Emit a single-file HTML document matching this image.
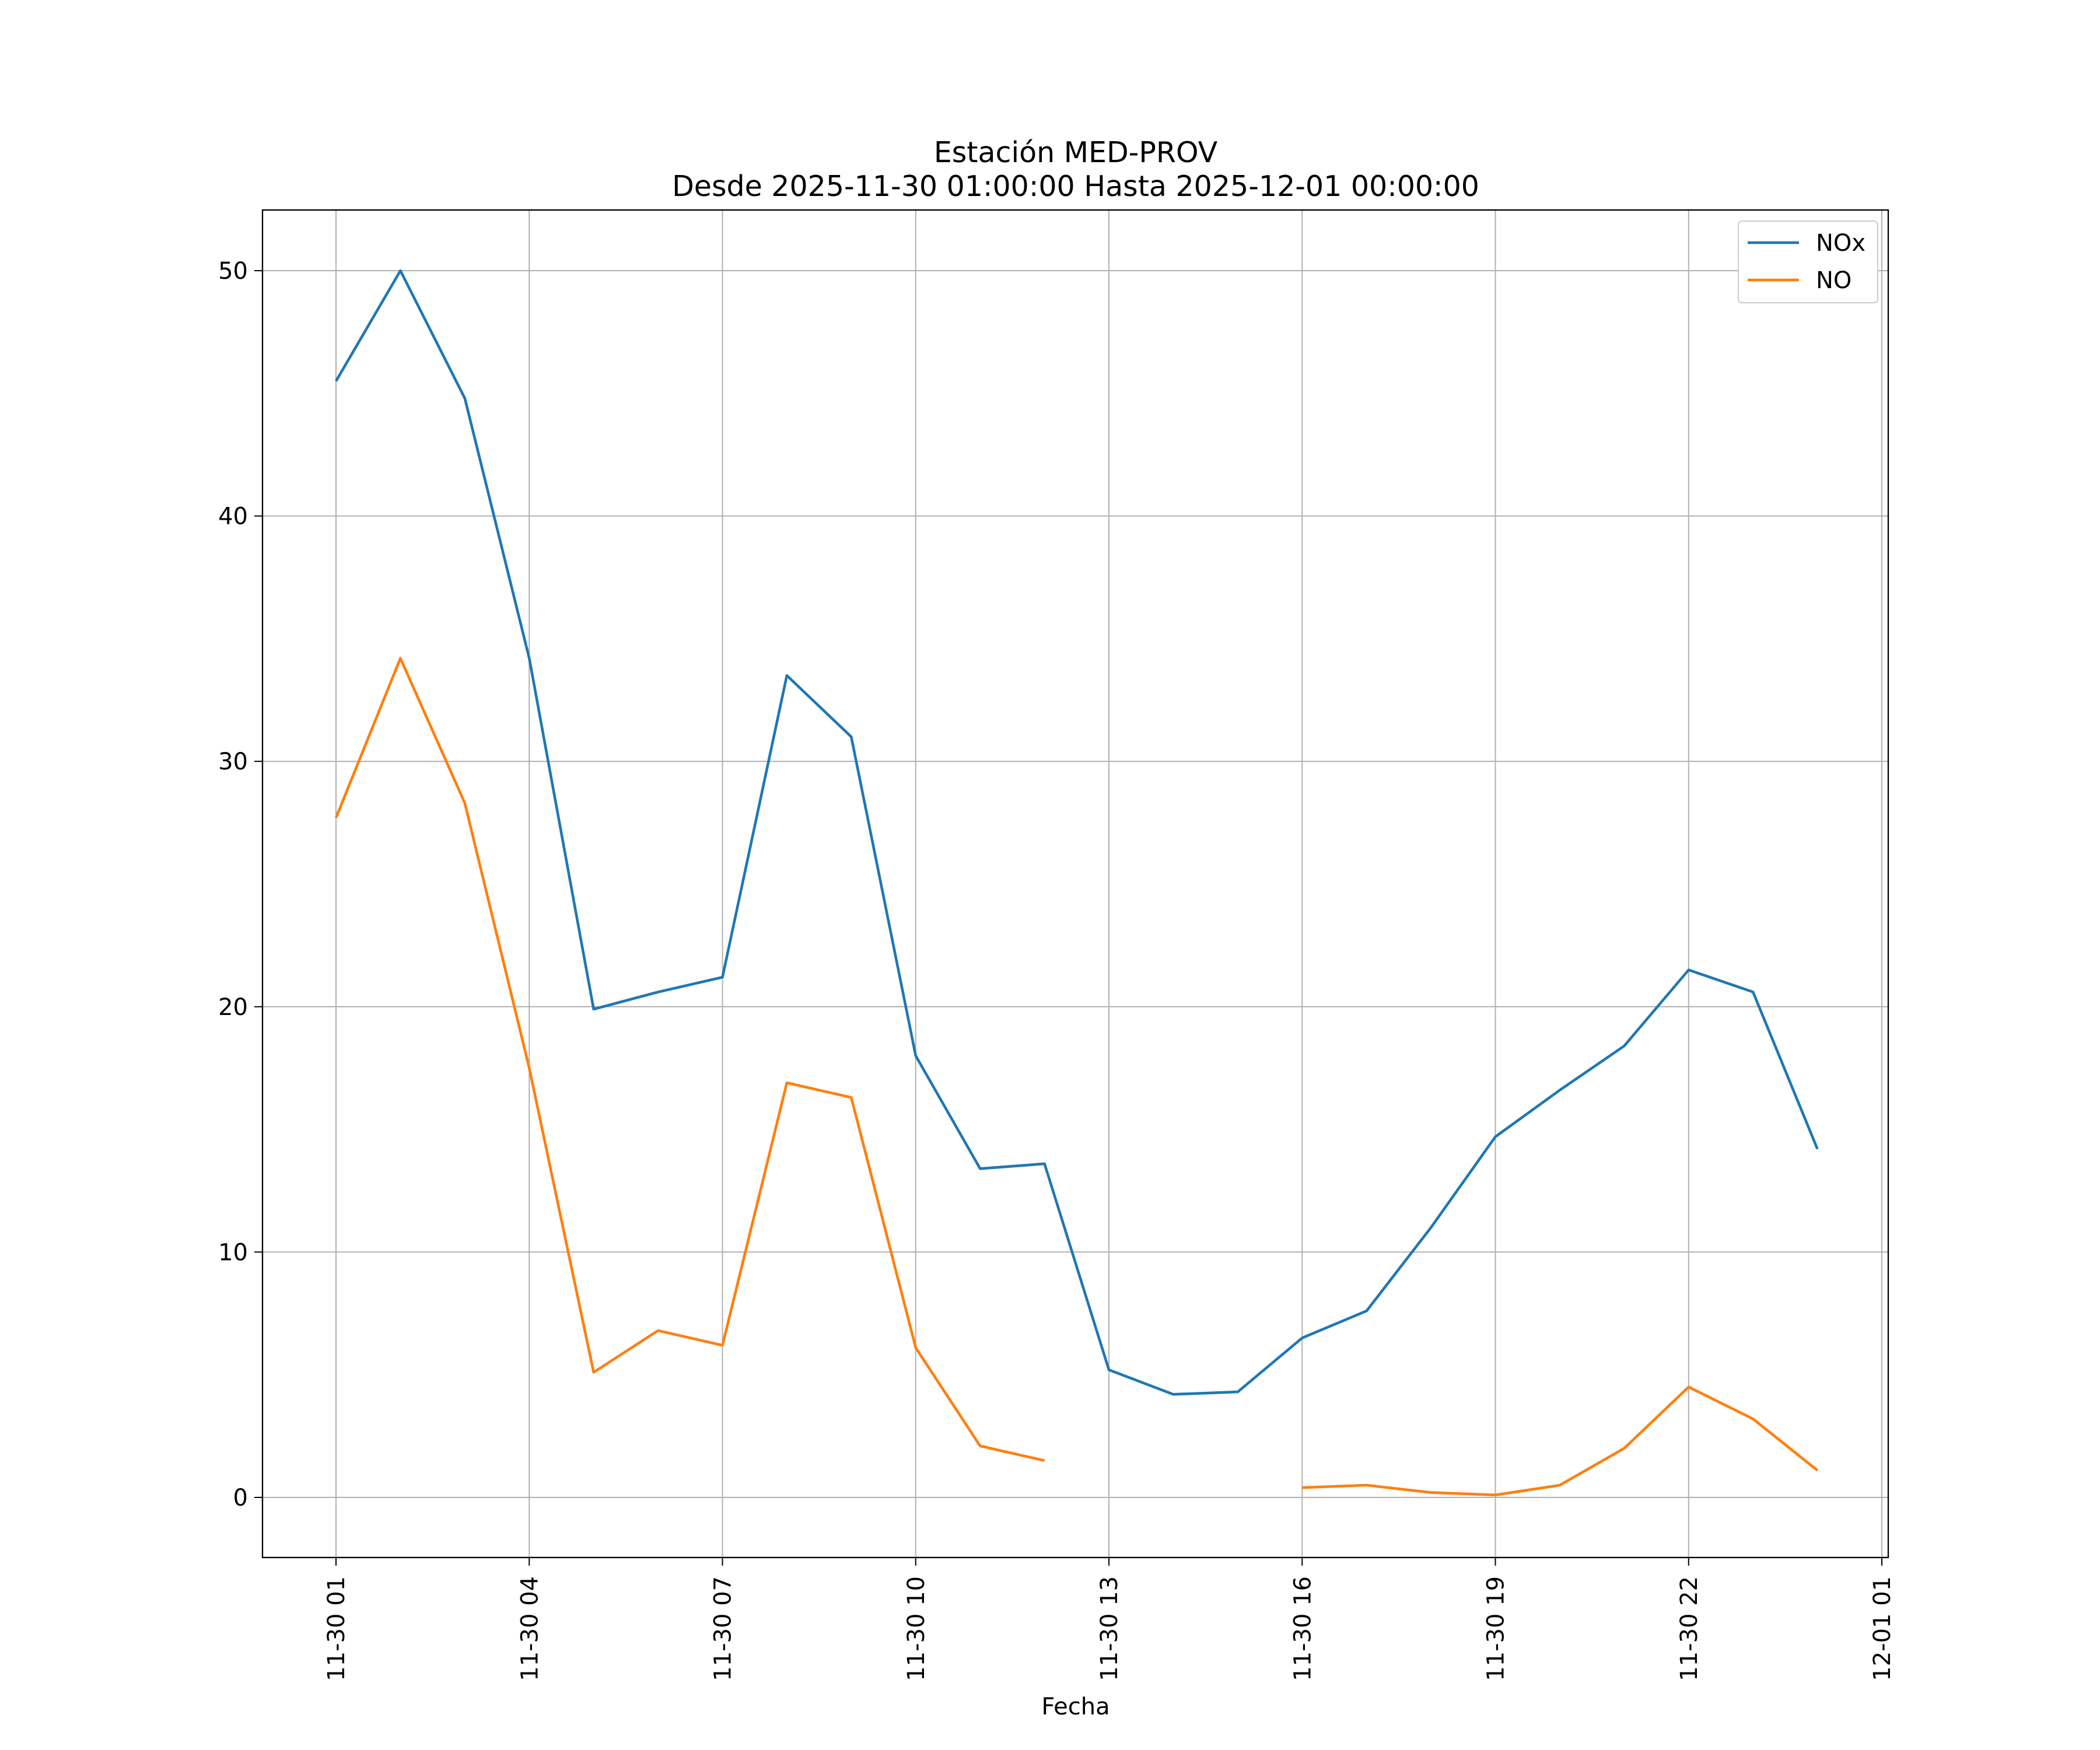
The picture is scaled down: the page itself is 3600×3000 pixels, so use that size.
<!DOCTYPE html>
<html><head><meta charset="utf-8"><style>html,body{margin:0;padding:0;background:#fff}svg{display:block}text{font-family:"DejaVu Sans","Liberation Sans",sans-serif;fill:#000}</style></head>
<body>
<svg id="chart" width="3600" height="3000" xmlns="http://www.w3.org/2000/svg">
<rect width="3600" height="3000" fill="#fff"/>
<g id="grid"></g><g id="series"></g><g id="axes"></g>
<text x="1844" y="278" font-size="49" text-anchor="middle">Estación MED-PROV</text>
<text x="1844" y="336" font-size="49" text-anchor="middle">Desde 2025-11-30 01:00:00 Hasta 2025-12-01 00:00:00</text>
<text x="1844" y="2939" font-size="40" text-anchor="middle">Fecha</text>
<g>
<rect x="2980" y="379" width="239" height="140" rx="6" fill="#fff" stroke="#ccc" stroke-width="2"/>
<line x1="2996" y1="416" x2="3084" y2="416" stroke="#1f77b4" stroke-width="4.6"/>
<text x="3113" y="430" font-size="40">NOx</text>
<line x1="2996" y1="480" x2="3084" y2="480" stroke="#ff7f0e" stroke-width="4.6"/>
<text x="3113" y="494" font-size="40">NO</text>
</g>
</svg>
<script>
const hours=[1,2,3,4,5,6,7,8,9,10,11,12,13,14,15,16,17,18,19,20,21,22,23,24];
const noxValues=[45.5,50,44.8,34.2,19.9,20.6,21.2,33.5,31,18,13.4,13.6,5.2,4.2,4.3,6.5,7.6,11,14.7,16.6,18.4,21.5,20.6,14.2];
const noValues=[27.7,34.2,28.3,17.5,5.1,6.8,6.2,16.9,16.3,6.1,2.1,1.5,null,null,null,0.4,0.5,0.2,0.1,0.5,2.0,4.5,3.2,1.1];
const xTickHours=[1,4,7,10,13,16,19,22,25];
const xTickLabels=["11-30 01","11-30 04","11-30 07","11-30 10","11-30 13","11-30 16","11-30 19","11-30 22","12-01 01"];
const yTicks=[0,10,20,30,40,50];
const L=450,R=3237,T=360,B=2670;
const xs=h=>576+(h-1)*(3226-576)/24;
const ys=v=>2567-v*(2567-464)/50;
const NS="http://www.w3.org/2000/svg";
function mk(p,tag,a){const e=document.createElementNS(NS,tag);for(const k in a)e.setAttribute(k,a[k]);p.appendChild(e);return e;}
const grid=document.getElementById('grid'),axes=document.getElementById('axes'),ser=document.getElementById('series');
xTickHours.forEach((h,i)=>{const x=xs(h);
 const g=mk(grid,'line',{x1:x,x2:x,y1:T,y2:B,stroke:'#b0b0b0','stroke-width':2});
 
 
 mk(axes,'line',{x1:x,x2:x,y1:B,y2:B+14,stroke:'#000','stroke-width':2});
 const t=mk(axes,'text',{x:0,y:0,'font-size':40,'text-anchor':'end',transform:`translate(${x+14},2702) rotate(-90)`});
 t.textContent=xTickLabels[i];
 
 
});
yTicks.forEach(v=>{const y=ys(v);
 const g=mk(grid,'line',{x1:L,x2:R,y1:y,y2:y,stroke:'#b0b0b0','stroke-width':2});
 
 
 mk(axes,'line',{x1:L-14,x2:L,y1:y,y2:y,stroke:'#000','stroke-width':2});
 const t=mk(axes,'text',{x:425,y:y+14,'font-size':40,'text-anchor':'end'});
 t.textContent=v;
 
 
});
const fr=mk(axes,'rect',{x:L,y:T,width:R-L,height:B-T,fill:'none',stroke:'#000','stroke-width':2.3});


function path(vals){let d='',pen=false;vals.forEach((v,i)=>{if(v===null){pen=false;return;}d+=(pen?'L':'M')+xs(hours[i]).toFixed(1)+' '+ys(v).toFixed(1)+' ';pen=true;});return d;}
const p1=mk(ser,'path',{d:path(noxValues),fill:'none',stroke:'#1f77b4','stroke-width':4.6,'stroke-linejoin':'round'});


const p2=mk(ser,'path',{d:path(noValues),fill:'none',stroke:'#ff7f0e','stroke-width':4.6,'stroke-linejoin':'round'});


</script>
</body></html>
